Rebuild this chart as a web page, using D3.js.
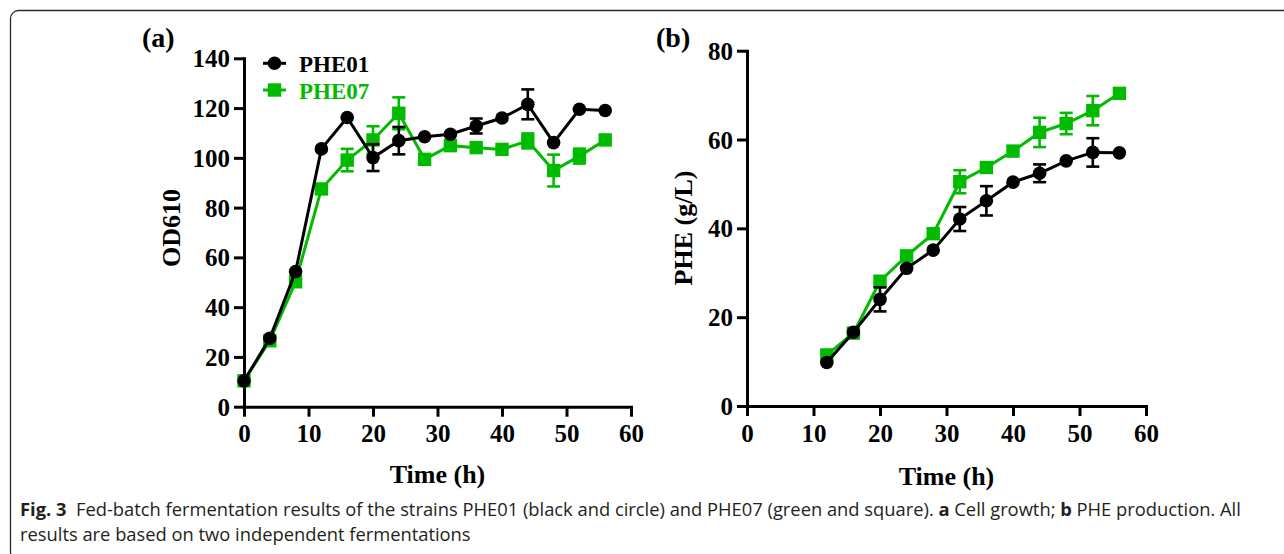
<!DOCTYPE html>
<html>
<head>
<meta charset="utf-8">
<script src="https://cdn.jsdelivr.net/npm/d3@7"></script>
<style>
  html, body { margin: 0; padding: 0; background: #fff; }
  svg { display: block; }
</style>
</head>
<body>
<svg id="chart" width="1284" height="554"></svg>
<script>
// ---------- data ----------
const timeA = [0, 4, 8, 12, 16, 20, 24, 28, 32, 36, 40, 44, 48, 52, 56];
const od01 = [10.4, 27.5, 54.3, 103.6, 116.2, 100.1, 106.9, 108.5, 109.5, 112.8, 116.0, 121.5, 106.1, 119.5, 119.0];
const od01Err = [0, 0, 0, 0, 0, 5.4, 5.5, 0, 0, 3.0, 0, 6.0, 0, 0, 0];
const od07 = [10.4, 26.5, 50.2, 87.5, 99.1, 107.2, 117.9, 99.4, 104.9, 104.1, 103.4, 106.8, 94.9, 100.7, 107.2];
const od07Err = [0, 0, 0, 0, 4.5, 5.5, 6.4, 0, 0, 0, 0, 3.0, 6.4, 3.0, 0];

const timeB = [12, 16, 20, 24, 28, 32, 36, 40, 44, 48, 52, 56];
const phe01 = [9.8, 16.6, 24.0, 31.0, 35.1, 42.1, 46.2, 50.4, 52.4, 55.2, 57.1, 57.0];
const phe01Err = [0, 0, 2.7, 0, 0, 2.7, 3.3, 0, 2.0, 0, 3.2, 0];
const phe07 = [11.5, 16.4, 28.1, 33.8, 38.8, 50.5, 53.7, 57.4, 61.6, 63.6, 66.5, 70.4];
const phe07Err = [0, 0, 0, 0, 0, 2.6, 0, 0, 3.3, 2.4, 3.3, 0];

const xTicks = [0, 10, 20, 30, 40, 50, 60];
const yTicksA = [0, 20, 40, 60, 80, 100, 120, 140];
const yTicksB = [0, 20, 40, 60, 80];
const seriesNames = ["PHE01", "PHE07"];
const captionBold = "Fig. 3";
const captionLine1 = "Fed-batch fermentation results of the strains PHE01 (black and circle) and PHE07 (green and square). ";
const captionLine1b = ["a", " Cell growth; ", "b", " PHE production. All"];
const captionLine2 = "results are based on two independent fermentations";

// ---------- style ----------
const BLACK = "#000000";
const GREEN = "#00bb00";
const SERIF = "'Liberation Serif', 'Times New Roman', serif";
const SANS = "'Open Sans', 'Noto Sans', sans-serif";

const svg = d3.select("#chart");

// frame
svg.append("path")
  .attr("d", "M1290,10.5 H18.5 A8,8 0 0 0 10.5,18.5 V552 A8,8 0 0 0 18.5,560 H1290")
  .attr("fill", "none").attr("stroke", "#2a2a2a").attr("stroke-width", 1.3);

function panel(opts) {
  const x = d3.scaleLinear().domain([0, 60]).range([opts.x0, opts.x1]);
  const y = d3.scaleLinear().domain(opts.yDomain).range([opts.y0, opts.y1]);
  const g = svg.append("g");

  // axes
  const xa = g.append("g").attr("transform", `translate(0,${opts.y0})`)
    .call(d3.axisBottom(x).tickValues(xTicks).tickSize(10).tickSizeOuter(0).tickPadding(6).tickFormat(d3.format("d")));
  const ya = g.append("g").attr("transform", `translate(${opts.x0},0)`)
    .call(d3.axisLeft(y).tickValues(opts.yTicks).tickSize(10).tickSizeOuter(0).tickPadding(4).tickFormat(d3.format("d")));
  [xa, ya].forEach(a => {
    a.select(".domain").attr("stroke", BLACK).attr("stroke-width", 3).attr("stroke-linecap", "square");
    a.selectAll(".tick line").attr("stroke", BLACK).attr("stroke-width", 3);
    a.selectAll(".tick text").attr("fill", BLACK)
      .style("font-family", SERIF).style("font-weight", "bold").style("font-size", "25px");
  });
  ya.selectAll(".tick text").attr("dy", "0.34em");
  xa.selectAll(".tick text").attr("dy", "0.78em");

  // axis titles
  g.append("text").attr("x", (opts.x0 + opts.x1) / 2).attr("y", opts.xTitleY)
    .attr("text-anchor", "middle").text("Time (h)")
    .style("font-family", SERIF).style("font-weight", "bold").style("font-size", "26px");
  g.append("text").attr("transform", `translate(${opts.yTitleX},${opts.yTitleC}) rotate(-90)`)
    .attr("text-anchor", "middle").text(opts.yTitle)
    .style("font-family", SERIF).style("font-weight", "bold").style("font-size", "26px");
  // panel label
  g.append("text").attr("x", opts.labelX).attr("y", 47).text(opts.label)
    .style("font-family", SERIF).style("font-weight", "bold").style("font-size", "28px");

  const line = d3.line().x(d => x(d.t)).y(d => y(d.v));

  opts.series.forEach(s => {
    const data = s.t.map((t, i) => ({ t, v: s.v[i], e: s.e[i] }));
    const sg = g.append("g");
    sg.append("path").datum(data).attr("d", line)
      .attr("fill", "none").attr("stroke", s.color).attr("stroke-width", 3);
    const eb = sg.selectAll(".eb").data(data.filter(d => d.e > 0)).enter().append("g");
    eb.append("line").attr("x1", d => x(d.t)).attr("x2", d => x(d.t))
      .attr("y1", d => y(d.v - d.e)).attr("y2", d => y(d.v + d.e))
      .attr("stroke", s.color).attr("stroke-width", 2.6);
    [-1, 1].forEach(k => {
      eb.append("line").attr("x1", d => x(d.t) - 6.5).attr("x2", d => x(d.t) + 6.5)
        .attr("y1", d => y(d.v + k * d.e)).attr("y2", d => y(d.v + k * d.e))
        .attr("stroke", s.color).attr("stroke-width", 2.6);
    });
    if (s.shape === "circle") {
      sg.selectAll("circle").data(data).enter().append("circle")
        .attr("cx", d => x(d.t)).attr("cy", d => y(d.v)).attr("r", 6.8).attr("fill", s.color);
    } else {
      sg.selectAll("rect.m").data(data).enter().append("rect")
        .attr("x", d => x(d.t) - 6.7).attr("y", d => y(d.v) - 6.7)
        .attr("width", 13.4).attr("height", 13.4).attr("fill", s.color);
    }
  });
  return g;
}

panel({
  x0: 244, x1: 631, y0: 406.7, y1: 58.3, yDomain: [0, 140], yTicks: yTicksA,
  xTitleY: 483, yTitleX: 180, yTitleC: 228, yTitle: "OD610", label: "(a)", labelX: 142,
  series: [
    { t: timeA, v: od07, e: od07Err, color: GREEN, shape: "square" },
    { t: timeA, v: od01, e: od01Err, color: BLACK, shape: "circle" }
  ]
});

panel({
  x0: 747, x1: 1146, y0: 406, y1: 50.7, yDomain: [0, 80], yTicks: yTicksB,
  xTitleY: 485, yTitleX: 692, yTitleC: 228, yTitle: "PHE (g/L)", label: "(b)", labelX: 656,
  series: [
    { t: timeB, v: phe07, e: phe07Err, color: GREEN, shape: "square" },
    { t: timeB, v: phe01, e: phe01Err, color: BLACK, shape: "circle" }
  ]
});

// legend (panel a)
const legend = svg.append("g");
[{ name: seriesNames[0], color: BLACK, shape: "circle", y: 63.3 },
 { name: seriesNames[1], color: GREEN, shape: "square", y: 90 }].forEach(l => {
  legend.append("line").attr("x1", 263).attr("x2", 286).attr("y1", l.y).attr("y2", l.y)
    .attr("stroke", l.color).attr("stroke-width", 3);
  if (l.shape === "circle") legend.append("circle").attr("cx", 274.5).attr("cy", l.y).attr("r", 6.8).attr("fill", l.color);
  else legend.append("rect").attr("x", 274.5 - 6.7).attr("y", l.y - 6.7).attr("width", 13.4).attr("height", 13.4).attr("fill", l.color);
  legend.append("text").attr("x", 299).attr("y", l.y + 8.5).text(l.name).attr("fill", l.color)
    .style("font-family", SERIF).style("font-weight", "bold").style("font-size", "23px");
});

// caption (condensed horizontally with a scale transform)
const cap = svg.append("g").style("font-family", SANS).style("font-size", "18.5px").attr("fill", "#231f20");
const t1 = cap.append("text").attr("x", 0).attr("y", 516.5);
t1.append("tspan").style("font-weight", "bold").text(captionBold);
t1.append("tspan").text("\u00a0\u00a0" + captionLine1);
captionLine1b.forEach((s, i) => t1.append("tspan").style("font-weight", i % 2 === 0 ? "bold" : "normal").text(s));
const t2 = cap.append("text").attr("x", 0).attr("y", 541.5).text(captionLine2);
const w1 = t1.node().getComputedTextLength();
const k = 1222 / w1;
cap.attr("transform", `translate(20,0) scale(${k},1)`);
</script>
</body>
</html>
